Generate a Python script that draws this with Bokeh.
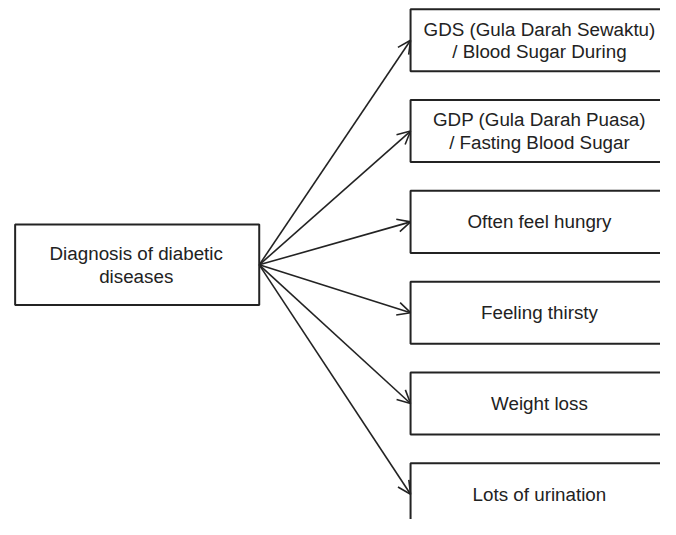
from bokeh.plotting import figure
from bokeh.models import Range1d, ColumnDataSource, Arrow, OpenHead
from bokeh.core.properties import value
from bokeh.embed import file_html
from bokeh.resources import INLINE

# Diagram content
root_label = ["Diagnosis of diabetic", "diseases"]
child_labels = [
    ["GDS (Gula Darah Sewaktu)", "/ Blood Sugar During"],
    ["GDP (Gula Darah Puasa)", "/ Fasting Blood Sugar"],
    ["Often feel hungry"],
    ["Feeling thirsty"],
    ["Weight loss"],
    ["Lots of urination"],
]

W, H = 660, 519
# data coordinates follow the 676x535 reference layout, squeezed into the figure
p = figure(width=W, height=H, output_backend="svg", toolbar_location=None,
           x_range=Range1d(0, 676), y_range=Range1d(535, 0),
           min_border=0, outline_line_color=None, border_fill_color="white",
           background_fill_color="white")
p.axis.visible = False
p.grid.visible = False

LINE = "#232323"
TXT = "#222222"
FONT = value("Liberation Sans")
FS = "18.8px"
LH = 23

# root box
rl, rr, rt, rb = 15, 265, 231, 314
p.quad(left=[rl], right=[rr], top=[rt], bottom=[rb], fill_color="white",
       line_color=LINE, line_width=2)
rcx, rcy = (rl + rr) / 2, (rt + rb) / 2

# child boxes
cl, cr = 420, 720
ctop0, step, ch = 9, 93.6, 64
tops = [ctop0 + i * step for i in range(len(child_labels))]
p.quad(left=[cl] * len(tops), right=[cr] * len(tops), top=tops,
       bottom=[t + ch for t in tops], fill_color="white", line_color=LINE, line_width=2)
centers = [t + ch / 2 for t in tops]

# arrows
src = ColumnDataSource(dict(x0=[rr] * len(centers), y0=[rcy] * len(centers),
                            x1=[cl] * len(centers), y1=centers))
p.add_layout(Arrow(source=src, x_start="x0", y_start="y0", x_end="x1", y_end="y1",
                   line_color=LINE, line_width=1.6,
                   end=OpenHead(size=13, line_color=LINE, line_width=1.6)))

# texts
tx, ty, tt = [], [], []
def add_lines(lines, cx, cy):
    n = len(lines)
    for k, s in enumerate(lines):
        tx.append(cx)
        ty.append(cy + (k - (n - 1) / 2) * LH)
        tt.append(s)

add_lines(root_label, rcx - 1, rcy)
for lab, c in zip(child_labels, centers):
    add_lines(lab, 552, c)

p.text(x=tx, y=ty, text=tt, text_align="center", text_baseline="middle",
       text_font=FONT, text_font_size=FS, text_color=TXT)

open("out.html", "w").write(file_html(p, INLINE))
